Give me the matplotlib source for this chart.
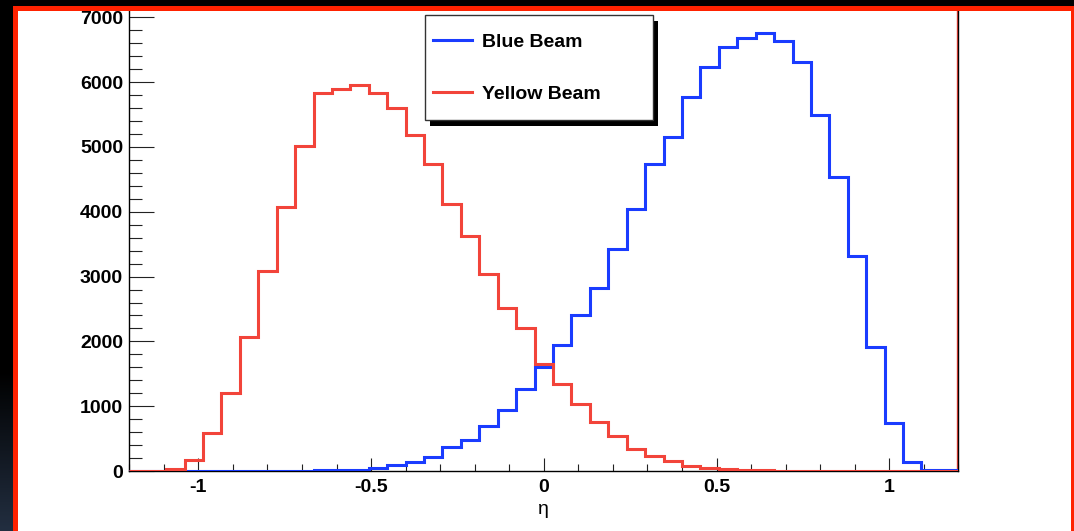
import numpy as np
import matplotlib
matplotlib.use('Agg')
import matplotlib.pyplot as plt
from matplotlib.lines import Line2D
from matplotlib.patches import Rectangle
from matplotlib.ticker import MultipleLocator, FuncFormatter
from matplotlib.transforms import ScaledTranslation, IdentityTransform, Affine2D

plt.rcParams['font.family'] = ['Liberation Sans', 'DejaVu Sans']
plt.rcParams['font.weight'] = 'bold'
plt.rcParams['axes.unicode_minus'] = False

# histogram data: 45 bins in eta from -1.2 to 1.2
eta_min, eta_max, n_bins = -1.2, 1.2, 45
blue_beam = [0, 0, 0, 3, 3, 3, 3, 3, 5, 5, 8,
             15, 20, 40, 93, 144, 221, 376, 478, 694, 941,
             1270, 1610, 1944, 2407, 2829, 3426, 4043, 4733, 5149, 5777,
             6240, 6548, 6677, 6764, 6636, 6307, 5494, 4532, 3323, 1919,
             736, 144, 10, 10]
yellow_beam = [0, 0, 30, 170, 590, 1200, 2070, 3080, 4070, 5010,
               5830, 5900, 5950, 5830, 5600, 5190, 4730, 4120, 3630, 3040,
               2520, 2200, 1650, 1350, 1040, 750, 540, 335, 235, 150,
               80, 40, 35, 15, 12, 0, 0, 0, 0, 0, 0, 0, 0, 0, 0]
labels = ['Blue Beam', 'Yellow Beam']

blue_col = '#1a3cff'
red_col = '#f2443a'
border_red = '#ff2200'

W, H = 1074, 531
fig = plt.figure(figsize=(W / 100, H / 100), dpi=100)
fig.patch.set_facecolor('white')

ax = fig.add_axes([129.3 / W, 60 / H, 829 / W, 463 / H])
edges = np.linspace(eta_min, eta_max, n_bins + 1)
ax.stairs(blue_beam, edges, color=blue_col, lw=2.2, zorder=3)
ax.stairs(yellow_beam, edges, color=red_col, lw=2.2, zorder=3.1)
ax.set_xlim(eta_min, eta_max)
ax.set_ylim(0, 7145)

# thin red line along the right frame edge
vl = ax.axvline(eta_max, color=red_col, lw=1.0, zorder=2)
vl.set_transform(vl.get_transform() + ScaledTranslation(-1.7 / 100, 0, fig.dpi_scale_trans))

ax.xaxis.set_major_locator(MultipleLocator(0.5))
ax.xaxis.set_minor_locator(MultipleLocator(0.1))
ax.yaxis.set_major_locator(MultipleLocator(1000))
ax.yaxis.set_minor_locator(MultipleLocator(200))
fmt = FuncFormatter(lambda v, p: '%g' % round(v, 3))
ax.xaxis.set_major_formatter(fmt)
ax.yaxis.set_major_formatter(fmt)

ax.tick_params(which='both', direction='in', top=False, right=False,
               colors='#222222', labelcolor='black', labelsize=14, width=0.8)
ax.tick_params(axis='y', which='major', length=18, pad=4.5)
ax.tick_params(axis='y', which='minor', length=9)
ax.tick_params(axis='x', which='major', length=9.4, pad=6)
ax.tick_params(axis='x', which='minor', length=4.8)
ax.spines['top'].set_visible(False)
for s in ['left', 'bottom', 'right']:
    ax.spines[s].set_color('black')
    ax.spines[s].set_linewidth(1.0)
ax.set_xlabel('η', fontsize=14, fontweight='normal', labelpad=3)

handles = [Line2D([], [], color=blue_col, lw=2.2), Line2D([], [], color=red_col, lw=2.2)]
leg = fig.legend(handles, labels, loc='upper left',
                 bbox_to_anchor=(425 / W, 1 - 15 / H, 228 / W, 0.0), mode='expand',
                 borderaxespad=0, borderpad=0.4, handleheight=2.6, labelspacing=0.74,
                 handlelength=2.04, handletextpad=0.48, fancybox=False,
                 prop={'size': 14, 'weight': 'bold'}, framealpha=1)
leg.get_frame().set_edgecolor('#333333')
leg.get_frame().set_linewidth(1.0)
leg.set_zorder(10)
# centre the handle lines on the text
for ln in leg.get_lines():
    ln.set_transform(ln.get_transform() + Affine2D().translate(0, -5))

# shadow behind the legend box
fig.canvas.draw()
bb = leg.get_window_extent()
fig.patches.append(Rectangle((bb.x0 + 5, bb.y0 - 6), bb.width, bb.height,
                             transform=IdentityTransform(), facecolor='black',
                             edgecolor='none', zorder=9))

# dark left strip with gradient, and the red border
strip = fig.add_axes([0, 0, 13 / W, 1])
grad = np.linspace(0, 1, 200)
grad = np.clip((grad - 0.7) / 0.3, 0, 1)[:, None]
dark = np.array([0, 0, 0])
slate = np.array([34, 46, 64]) / 255
img = dark[None, None, :] * (1 - grad[:, :, None]) + slate[None, None, :] * grad[:, :, None]
strip.imshow(img, aspect='auto', extent=(0, 1, 0, 1))
strip.set_axis_off()

def px_rect(x0, y0, x1, y1, color):
    fig.patches.append(Rectangle((x0 / W, 1 - y1 / H), (x1 - x0) / W, (y1 - y0) / H,
                                 transform=fig.transFigure, facecolor=color,
                                 edgecolor='none', zorder=20))

px_rect(0, 0, W, 6, 'black')
px_rect(13, 6, W, 11, border_red)
px_rect(13, 6, 18, H, border_red)
px_rect(1071, 6, W, H, border_red)

fig.savefig('out.png', dpi=100)
